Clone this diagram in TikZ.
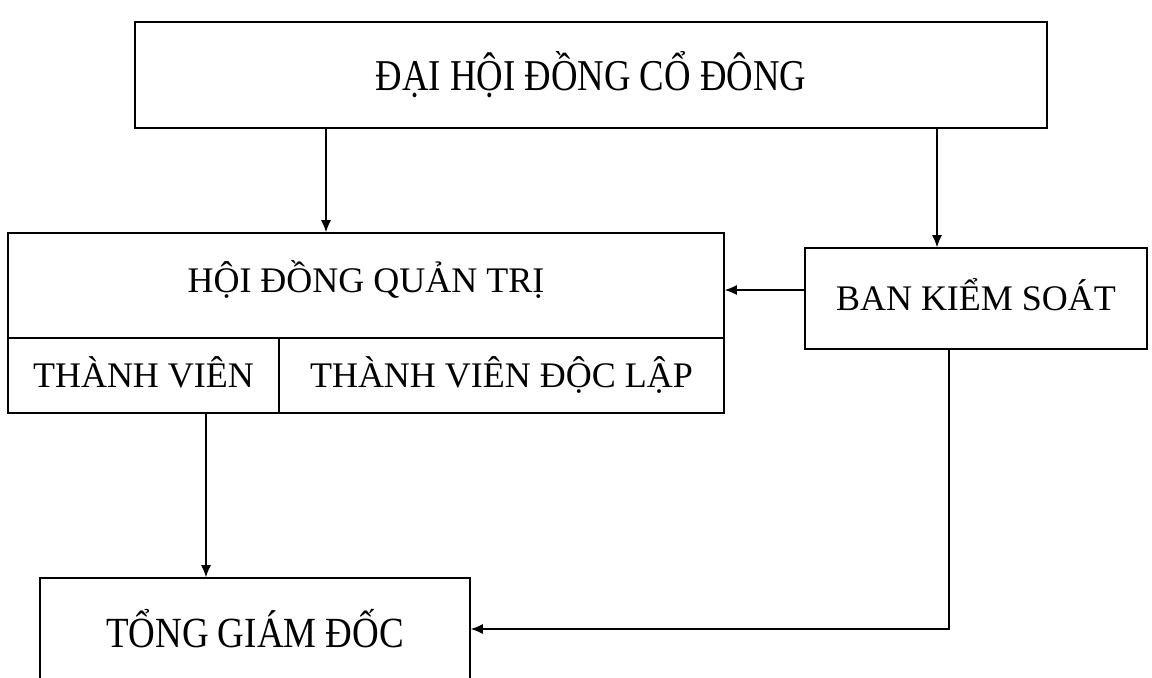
\documentclass[tikz,border=0pt]{standalone}
\usepackage{fontspec}
\setmainfont{Liberation Serif}
\usetikzlibrary{arrows.meta}

\begin{document}
\begin{tikzpicture}[x=0.5pt, y=-0.5pt,
        box/.style={draw, line width=0.8pt, inner sep=0pt, font=\fontsize{18}{20}\selectfont},
        caps/.style={text height=12pt, text depth=0pt},
        arr/.style={-{Latex[length=6pt,width=5pt]}, line width=0.6pt}]
        \useasboundingbox (0,0) rectangle (1152,677);
        \clip (0,0) rectangle (1152,677);

        % boxes
        \node[box, minimum width=456pt, minimum height=53pt] (dhcd) at (591,75)
            {\scalebox{0.835}[1]{\fontsize{22}{24}\selectfont ĐẠI HỘI ĐỒNG CỔ ĐÔNG}};
        \node[box, minimum width=358pt, minimum height=52.5pt] (hdqt) at (366,285.5) {};
        \node[caps] (hdqttext) at (366,280) {\fontsize{18}{20}\selectfont HỘI ĐỒNG QUẢN TRỊ};
        \node[box, caps, minimum width=135.5pt, minimum height=37.5pt] (tv) at (143.5,375.5) {THÀNH VIÊN};
        \node[box, caps, minimum width=222.5pt, minimum height=37.5pt] (tvdl) at (501.5,375.5) {THÀNH VIÊN ĐỘC LẬP};
        \node[box, caps, minimum width=171pt, minimum height=50.5pt] (bks) at (976,298.5) {BAN KIỂM SOÁT};
        \node[box, minimum width=215pt, minimum height=51pt] (tgd) at (255,629)
            {\scalebox{0.86}[1]{\fontsize{21.5}{24}\selectfont TỔNG GIÁM ĐỐC}};

        % connectors
        \coordinate (xl) at (326,0);
        \coordinate (xr) at (937,0);
        \coordinate (yk) at (0,290);
        \coordinate (xt) at (206,0);
        \coordinate (xb) at (949,0);
        \draw[arr] (xl |- dhcd.south) -- (xl |- hdqt.north);
        \draw[arr] (xr |- dhcd.south) -- (xr |- bks.north);
        \draw[arr] (bks.west |- yk) -- (hdqt.east |- yk);
        \draw[arr] (xt |- tv.south) -- (xt |- tgd.north);
        \draw[arr] (xb |- bks.south) |- (tgd.east);
    \end{tikzpicture}
\end{document}
